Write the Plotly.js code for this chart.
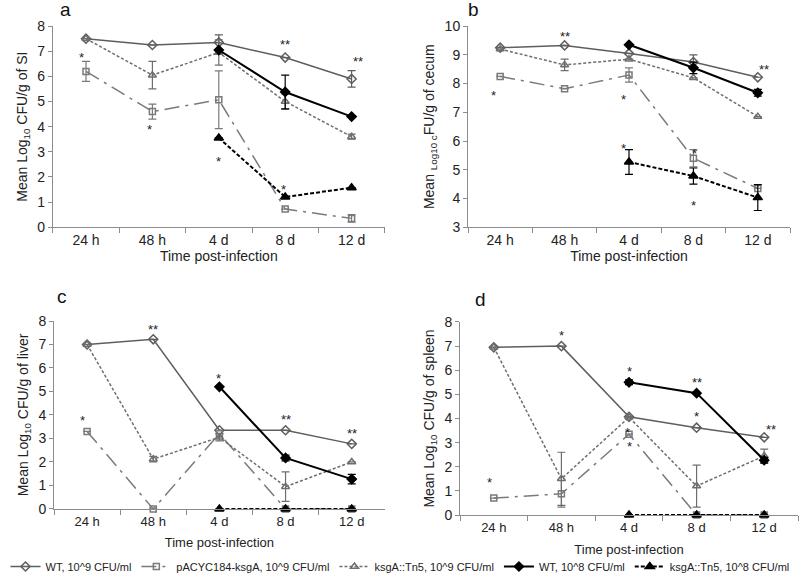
<!DOCTYPE html>
<html>
<head>
<meta charset="utf-8">
<script src="https://cdn.plot.ly/plotly-3.0.1.min.js"></script>
<style>
  html, body { margin: 0; padding: 0; background: white; }
  #chart { width: 800px; height: 581px; }
</style>
</head>
<body>
<div id="chart"></div>
<script>
// Time points shared by all four panels
const timePoints = ['24 h', '48 h', '4 d', '8 d', '12 d'];

const seriesNames = [
    'WT, 10^9 CFU/ml',
    'pACYC184-ksgA, 10^9 CFU/ml',
    'ksgA::Tn5, 10^9 CFU/ml',
    'WT, 10^8 CFU/ml',
    'ksgA::Tn5, 10^8 CFU/ml'
];

// Panel a - small intestine
const siWT9 = [7.5, 7.25, 7.35, 6.75, 5.9];
const siWT9Err = [0, 0, 0.3, 0, 0.33];
const siPac = [6.2, 4.6, 5.07, 0.72, 0.35];
const siPacErr = [0.4, 0.3, 1.15, 0, 0.15];
const siKsg9 = [7.5, 6.05, 6.95, 5.0, 3.6];
const siKsg9Err = [0, 0.55, 0.5, 0.3, 0.1];
const siWT8 = [null, null, 7.05, 5.38, 4.4];
const siWT8Err = [0, 0, 0, 0.67, 0];
const siKsg8 = [null, null, 3.55, 1.2, 1.57];
const siKsg8Err = [0, 0, 0, 0, 0];

// Panel b - cecum
const ceWT9 = [9.25, 9.33, 9.05, 8.75, 8.22];
const ceWT9Err = [0, 0, 0, 0.25, 0];
const cePac = [8.25, 7.82, 8.3, 5.4, 4.35];
const cePacErr = [0, 0, 0.25, 0.3, 0];
const ceKsg9 = [9.2, 8.65, 8.85, 8.2, 6.85];
const ceKsg9Err = [0, 0.2, 0, 0, 0];
const ceWT8 = [null, null, 9.35, 8.55, 7.68];
const ceWT8Err = [0, 0, 0, 0.2, 0.12];
const ceKsg8 = [null, null, 5.27, 4.78, 4.03];
const ceKsg8Err = [0, 0, 0.43, 0.28, 0.45];

// Panel c - liver
const liWT9 = [7.0, 7.22, 3.35, 3.35, 2.77];
const liWT9Err = [0, 0, 0, 0, 0];
const liPac = [3.3, 0, 3.2, 0, 0];
const liPacErr = [0, 0, 0, 0, 0];
const liKsg9 = [7.0, 2.12, 3.05, 0.95, 2.0];
const liKsg9Err = [0, 0.12, 0.15, 0.63, 0];
const liWT8 = [null, null, 5.2, 2.17, 1.27];
const liWT8Err = [0, 0, 0, 0.12, 0.2];
const liKsg8 = [null, null, 0, 0, 0];
const liKsg8Err = [0, 0, 0, 0, 0];

// Panel d - spleen
const spWT9 = [6.95, 7.0, 4.07, 3.62, 3.22];
const spWT9Err = [0, 0, 0, 0, 0];
const spPac = [0.7, 0.88, 3.35, 0, 0];
const spPacErr = [0, 0.55, 0, 0, 0];
const spKsg9 = [6.95, 1.5, 4.05, 1.2, 2.45];
const spKsg9Err = [0, 1.1, 0, 0.87, 0.28];
const spWT8 = [null, null, 5.5, 5.05, 2.27];
const spWT8Err = [0, 0, 0.1, 0, 0.12];
const spKsg8 = [null, null, 0, 0, 0];
const spKsg8Err = [0, 0, 0, 0, 0];

// significance stars: [category index, y, text]
const starsA = [[-0.07, 6.75, '*'], [0.95, 3.9, '*'], [2, 8.15, '*'], [2, 2.6, '*'],
                [3, 7.25, '**'], [2.98, 1.5, '*'], [4.1, 6.6, '**']];
const starsB = [[-0.1, 7.6, '*'], [1, 9.65, '**'], [1.92, 7.45, '*'], [1.92, 5.75, '*'],
                [3.02, 5.55, '*'], [3, 3.75, '*'], [4.1, 8.5, '**']];
const starsC = [[-0.07, 3.75, '*'], [1, 7.65, '**'], [1.98, 5.55, '*'],
                [3, 3.8, '**'], [4, 3.2, '**']];
const starsD = [[-0.07, 1.35, '*'], [1, 7.45, '*'], [2, 5.95, '*'], [1.98, 3.4, '*'],
                [2, 2.85, '*'], [3, 5.5, '**'], [3, 4.1, '*'], [4.1, 3.55, '**']];

const styles = [
    { color: '#5e5e5e', dash: 'solid', width: 1.5, symbol: 'diamond-open', msize: 7 },
    { color: '#7a7a7a', dash: 'longdashdot', width: 1.5, symbol: 'square-open', msize: 6 },
    { color: '#6e6e6e', dash: '3px,2px', width: 1.5, symbol: 'triangle-up-open', msize: 7 },
    { color: '#000000', dash: 'solid', width: 2, symbol: 'diamond', msize: 7 },
    { color: '#000000', dash: '4px,2px', width: 2, symbol: 'triangle-up', msize: 8 }
];

function makePanel(values, errors, axisNum, legend) {
    const suffix = axisNum === 1 ? '' : String(axisNum);
    return values.map((ys, i) => ({
        x: timePoints,
        y: ys,
        name: seriesNames[i],
        type: 'scatter',
        mode: 'lines+markers',
        xaxis: 'x' + suffix,
        yaxis: 'y' + suffix,
        showlegend: legend,
        cliponaxis: false,
        line: { color: styles[i].color, dash: styles[i].dash, width: styles[i].width },
        marker: {
            symbol: styles[i].symbol, size: styles[i].msize, color: styles[i].color,
            line: { color: styles[i].color, width: 1.5 }
        },
        error_y: {
            type: 'data', array: errors[i], visible: true,
            color: styles[i].color, thickness: 1.2, width: 4
        }
    }));
}

const traces = [
    ...makePanel([siWT9, siPac, siKsg9, siWT8, siKsg8],
                 [siWT9Err, siPacErr, siKsg9Err, siWT8Err, siKsg8Err], 1, true),
    ...makePanel([ceWT9, cePac, ceKsg9, ceWT8, ceKsg8],
                 [ceWT9Err, cePacErr, ceKsg9Err, ceWT8Err, ceKsg8Err], 2, false),
    ...makePanel([liWT9, liPac, liKsg9, liWT8, liKsg8],
                 [liWT9Err, liPacErr, liKsg9Err, liWT8Err, liKsg8Err], 3, false),
    ...makePanel([spWT9, spPac, spKsg9, spWT8, spKsg8],
                 [spWT9Err, spPacErr, spKsg9Err, spWT8Err, spKsg8Err], 4, false)
];

const regular = 'Liberation Sans, Arial, sans-serif';

function xAxis(domain, anchor, fontSize, standoff) {
    return {
        domain: domain, anchor: anchor, type: 'category',
        range: [-0.5, 4.5],
        showline: true, linecolor: '#8c8c8c', linewidth: 1,
        ticks: 'outside', ticklen: 5, tickcolor: '#8c8c8c', tickson: 'boundaries',
        showgrid: false, zeroline: false,
        tickfont: { size: fontSize, color: '#222' },
        title: { text: 'Time post-infection', font: { size: fontSize, color: '#222' },
                 standoff: standoff }
    };
}

function yAxis(domain, anchor, range, title) {
    return {
        domain: domain, anchor: anchor, range: range, dtick: 1,
        showline: true, linecolor: '#8c8c8c', linewidth: 1,
        ticks: 'outside', ticklen: 4, tickcolor: '#8c8c8c',
        showgrid: false, zeroline: false,
        tickfont: { size: 14, color: '#222' },
        title: { text: title, font: { size: 14, color: '#222' }, standoff: 6 }
    };
}

function starAnnotations(stars, axisNum) {
    const suffix = axisNum === 1 ? '' : String(axisNum);
    return stars.map(s => ({
        x: s[0], y: s[1], text: s[2], xref: 'x' + suffix, yref: 'y' + suffix,
        showarrow: false, font: { size: 13, color: '#222' }
    }));
}

function letter(text, x, y) {
    return { text: text, x: x, y: y, xref: 'paper', yref: 'paper', xanchor: 'left',
             yanchor: 'middle', showarrow: false, font: { size: 19, color: '#111' } };
}

const layout = {
    width: 800, height: 581,
    margin: { l: 0, r: 0, t: 0, b: 0 },
    paper_bgcolor: 'white', plot_bgcolor: 'white',
    font: { family: regular, size: 12, color: '#222' },
    showlegend: true,
    legend: {
        orientation: 'h', x: 0.5, xanchor: 'center', y: 0, yanchor: 'bottom',
        font: { size: 11, color: '#222' },
        itemwidth: 30, tracegroupgap: 0
    },
    xaxis: xAxis([0.066, 0.481], 'y', 14, 4),
    yaxis: yAxis([0.609, 0.955], 'x', [0, 8], 'Mean Log<sub>10</sub> CFU/g of SI'),
    xaxis2: xAxis([0.585, 0.9875], 'y2', 14, 4),
    yaxis2: yAxis([0.609, 0.955], 'x2', [3, 10], 'Mean <sub>Log10 c</sub>FU/g of cecum'),
    xaxis3: xAxis([0.0675, 0.481], 'y3', 13, 10),
    yaxis3: yAxis([0.124, 0.4475], 'x3', [0, 8], 'Mean Log<sub>10</sub> CFU/g of liver'),
    xaxis4: xAxis([0.575, 0.9975], 'y4', 13, 11),
    yaxis4: yAxis([0.1136, 0.4458], 'x4', [0, 8], 'Mean Log<sub>10</sub> CFU/g of spleen'),
    annotations: [
        ...starAnnotations(starsA, 1),
        ...starAnnotations(starsB, 2),
        ...starAnnotations(starsC, 3),
        ...starAnnotations(starsD, 4),
        letter('a', 0.073, 0.983),
        letter('b', 0.583, 0.983),
        letter('c', 0.069, 0.489),
        letter('d', 0.591, 0.485)
    ]
};

Plotly.newPlot('chart', traces, layout, { displayModeBar: false });
</script>
</body>
</html>
